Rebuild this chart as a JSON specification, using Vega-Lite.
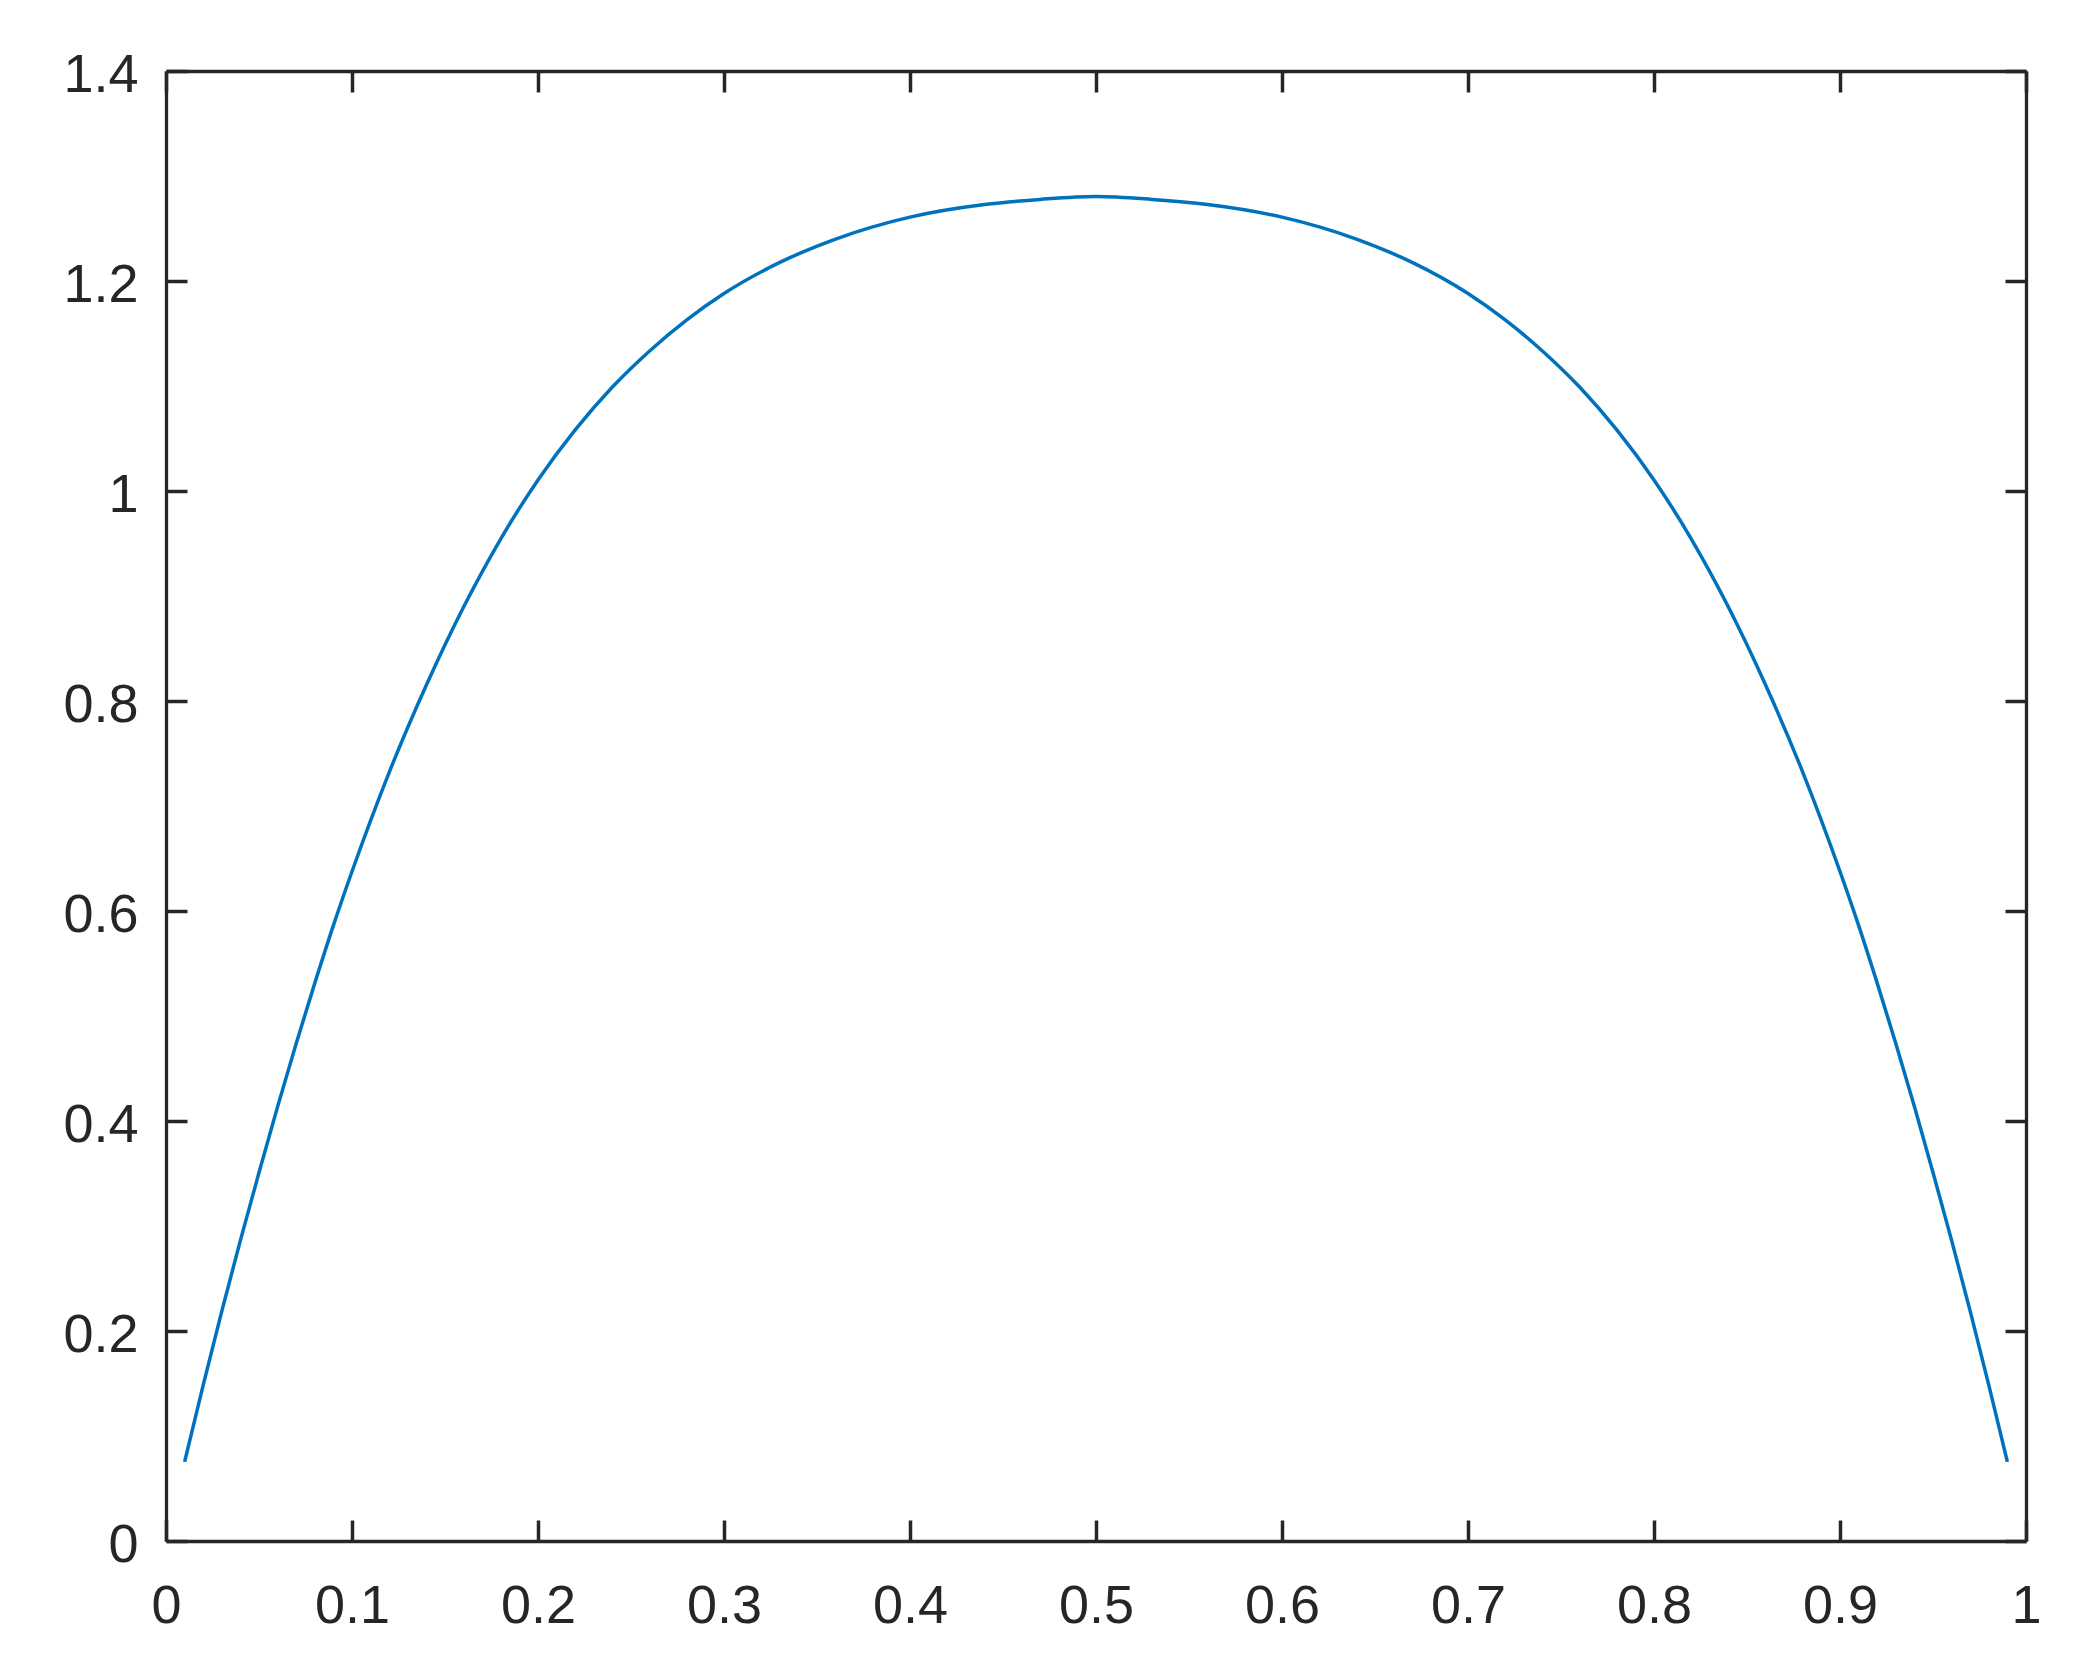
{
  "$schema": "https://vega.github.io/schema/vega-lite/v6.json",
  "autosize": "none",
  "width": 1860,
  "height": 1470,
  "padding": {"left": 166, "top": 71, "right": 73, "bottom": 122},
  "background": "white",
  "config": {
    "view": {"stroke": null},
    "axis": {
      "grid": false,
      "domainColor": "#262626",
      "domainWidth": 3.3,
      "tickColor": "#262626",
      "tickWidth": 3.5,
      "tickSize": -21,
      "labelColor": "#262626",
      "labelFont": "Liberation Sans",
      "labelFontSize": 54,
      "title": null
    }
  },
  "data": {
    "values": [
      {"x": 0.01, "y": 0.0753},
      {"x": 0.02, "y": 0.1485},
      {"x": 0.03, "y": 0.2189},
      {"x": 0.04, "y": 0.2863},
      {"x": 0.05, "y": 0.3509},
      {"x": 0.06, "y": 0.4137},
      {"x": 0.07, "y": 0.4739},
      {"x": 0.08, "y": 0.5313},
      {"x": 0.09, "y": 0.5863},
      {"x": 0.10, "y": 0.6376},
      {"x": 0.12, "y": 0.7321},
      {"x": 0.14, "y": 0.8152},
      {"x": 0.16, "y": 0.8895},
      {"x": 0.18, "y": 0.9545},
      {"x": 0.20, "y": 1.0105},
      {"x": 0.22, "y": 1.0582},
      {"x": 0.24, "y": 1.0990},
      {"x": 0.26, "y": 1.1334},
      {"x": 0.28, "y": 1.1630},
      {"x": 0.30, "y": 1.1881},
      {"x": 0.33, "y": 1.2177},
      {"x": 0.36, "y": 1.2399},
      {"x": 0.40, "y": 1.2608},
      {"x": 0.44, "y": 1.2728},
      {"x": 0.47, "y": 1.2777},
      {"x": 0.50, "y": 1.2805},
      {"x": 0.53, "y": 1.2777},
      {"x": 0.56, "y": 1.2728},
      {"x": 0.60, "y": 1.2608},
      {"x": 0.64, "y": 1.2399},
      {"x": 0.67, "y": 1.2177},
      {"x": 0.70, "y": 1.1881},
      {"x": 0.72, "y": 1.1630},
      {"x": 0.74, "y": 1.1334},
      {"x": 0.76, "y": 1.0990},
      {"x": 0.78, "y": 1.0582},
      {"x": 0.80, "y": 1.0105},
      {"x": 0.82, "y": 0.9545},
      {"x": 0.84, "y": 0.8895},
      {"x": 0.86, "y": 0.8152},
      {"x": 0.88, "y": 0.7321},
      {"x": 0.90, "y": 0.6376},
      {"x": 0.91, "y": 0.5863},
      {"x": 0.92, "y": 0.5313},
      {"x": 0.93, "y": 0.4739},
      {"x": 0.94, "y": 0.4137},
      {"x": 0.95, "y": 0.3509},
      {"x": 0.96, "y": 0.2863},
      {"x": 0.97, "y": 0.2189},
      {"x": 0.98, "y": 0.1485},
      {"x": 0.99, "y": 0.0753}
    ]
  },
  "layer": [
    {
      "mark": {"type": "line", "color": "#0072BD", "strokeWidth": 3.5, "interpolate": "monotone", "clip": true},
      "encoding": {
        "x": {
          "field": "x", "type": "quantitative",
          "scale": {"domain": [0, 1], "nice": false, "zero": false},
          "axis": {"orient": "bottom", "values": [0, 0.1, 0.2, 0.3, 0.4, 0.5, 0.6, 0.7, 0.8, 0.9, 1], "format": "~g", "labelPadding": 59, "labelFlush": false, "labelOverlap": false}
        },
        "y": {
          "field": "y", "type": "quantitative",
          "scale": {"domain": [0, 1.4], "nice": false, "zero": false},
          "axis": {"orient": "left", "values": [0, 0.2, 0.4, 0.6, 0.8, 1, 1.2, 1.4], "format": "~g", "labelPadding": 49, "labelOffset": 4, "labelFlush": false, "labelOverlap": false}
        }
      }
    },
    {
      "mark": {"type": "line", "strokeOpacity": 0, "interpolate": "monotone"},
      "encoding": {
        "x": {
          "field": "x", "type": "quantitative",
          "scale": {"domain": [0, 1], "nice": false, "zero": false},
          "axis": {"orient": "top", "values": [0, 0.1, 0.2, 0.3, 0.4, 0.5, 0.6, 0.7, 0.8, 0.9, 1], "labels": false}
        },
        "y": {
          "field": "y", "type": "quantitative",
          "scale": {"domain": [0, 1.4], "nice": false, "zero": false},
          "axis": {"orient": "right", "values": [0, 0.2, 0.4, 0.6, 0.8, 1, 1.2, 1.4], "labels": false}
        }
      }
    }
  ],
  "resolve": {"axis": {"x": "independent", "y": "independent"}}
}
